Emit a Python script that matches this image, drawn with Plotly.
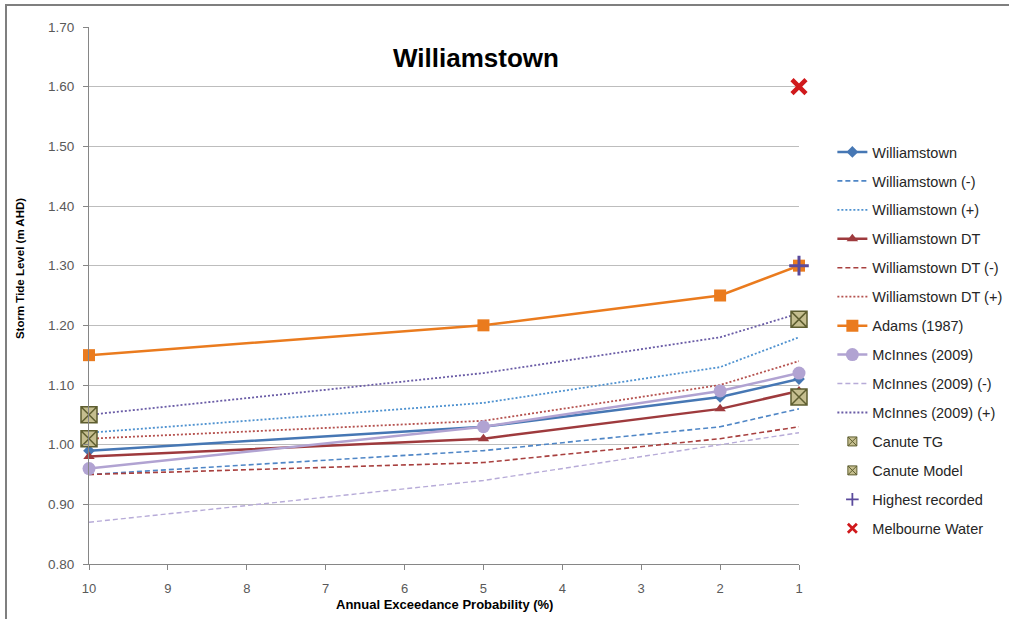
import plotly.graph_objects as go

# Annual exceedance probability (%) at which levels are given
aep = [10, 5, 2, 1]

williamstown = [0.99, 1.03, 1.08, 1.11]
williamstown_lo = [0.95, 0.99, 1.03, 1.06]
williamstown_hi = [1.02, 1.07, 1.13, 1.18]
williamstown_dt = [0.98, 1.01, 1.06, 1.09]
williamstown_dt_lo = [0.95, 0.97, 1.01, 1.03]
williamstown_dt_hi = [1.01, 1.04, 1.10, 1.14]
adams_1987 = [1.15, 1.20, 1.25, 1.30]
mcinnes_2009 = [0.96, 1.03, 1.09, 1.12]
mcinnes_2009_lo = [0.87, 0.94, 1.00, 1.02]
mcinnes_2009_hi = [1.05, 1.12, 1.18, 1.22]

canute_aep = [10, 1]
canute_tg = [1.01, 1.08]
canute_model = [1.05, 1.21]

highest_aep = [1]
highest_recorded = [1.30]
melbourne_aep = [1]
melbourne_water = [1.60]

x_ticks = [10, 9, 8, 7, 6, 5, 4, 3, 2, 1]
y_ticks = [0.80, 0.90, 1.00, 1.10, 1.20, 1.30, 1.40, 1.50, 1.60, 1.70]

FONT = "Liberation Sans"
DASH = "5px,3px"
DOT = "2px,2px"

fig = go.Figure()


def line(name, y, color, width, dash="solid", symbol=None, size=0, x=aep):
    mode = "lines+markers" if symbol else "lines"
    fig.add_trace(go.Scatter(
        x=x, y=y, name=name, mode=mode, legendgroup=name, cliponaxis=False,
        line=dict(color=color, width=width, dash=dash),
        marker=dict(symbol=symbol or "circle", size=size, color=color,
                    line=dict(width=0)),
    ))


def points(name, x, y, symbol, size, legend_size, fill, edge, edge_w):
    marker = dict(symbol=symbol, size=size, color=fill,
                  line=dict(color=edge, width=edge_w))
    fig.add_trace(go.Scatter(
        x=x, y=y, name=name, mode="markers", legendgroup=name,
        cliponaxis=False, showlegend=False, marker=marker,
    ))
    # smaller symbol for the legend key
    key = dict(marker, size=legend_size, line=dict(color=edge, width=max(1, edge_w * 0.6)))
    fig.add_trace(go.Scatter(
        x=[None], y=[None], name=name, mode="markers", legendgroup=name,
        marker=key,
    ))


line("Williamstown", williamstown, "#4677B4", 2.5, symbol="diamond", size=9)
line("Williamstown (-)", williamstown_lo, "#4F86C6", 1.6, dash=DASH)
line("Williamstown (+)", williamstown_hi, "#4F92D0", 1.8, dash=DOT)
line("Williamstown DT", williamstown_dt, "#9E3A3D", 2.5, symbol="triangle-up", size=10)
line("Williamstown DT (-)", williamstown_dt_lo, "#A8403F", 1.6, dash=DASH)
line("Williamstown DT (+)", williamstown_dt_hi, "#B5524F", 1.8, dash=DOT)
line("Adams (1987)", adams_1987, "#EA7B1E", 2.5, symbol="square", size=12)
line("McInnes (2009)", mcinnes_2009, "#B1A3D2", 2.5, symbol="circle", size=13)
line("McInnes (2009) (-)", mcinnes_2009_lo, "#B7ABD8", 1.4, dash=DASH)
line("McInnes (2009) (+)", mcinnes_2009_hi, "#6A5CA6", 1.8, dash=DOT)

points("Canute TG", canute_aep, canute_tg, "square-x", 16, 9, "#C5BE8F", "#5E5E30", 1.5)
points("Canute Model", canute_aep, canute_model, "square-x", 16, 9, "#C5BE8F", "#5E5E30", 1.5)
points("Highest recorded", highest_aep, highest_recorded, "cross-thin", 14, 9, "#5A4A9C", "#5A4A9C", 3)
points("Melbourne Water", melbourne_aep, melbourne_water, "x-thin", 14, 9, "#D0191C", "#D0191C", 4.5)

# outer frame of the chart
fig.add_shape(type="rect", xref="paper", yref="paper",
              x0=-0.1169, x1=1.31, y0=-0.12, y1=1.041,
              line=dict(color="#7F7F7F", width=2), layer="below")

fig.add_annotation(text="<b>Williamstown</b>", xref="paper", yref="paper",
                   x=0.545, y=0.9423, xanchor="center", yanchor="middle", showarrow=False,
                   font=dict(family=FONT, size=26, color="#000000"))
fig.add_annotation(text="<b>Storm Tide Level (m AHD)</b>", xref="paper", yref="paper",
                   x=-0.0972, y=0.551, xanchor="center", yanchor="middle",
                   textangle=-90, showarrow=False,
                   font=dict(family=FONT, size=11.5, color="#000000"))
fig.add_annotation(text="<b>Annual Exceedance Probability (%)</b>", xref="paper", yref="paper",
                   x=0.5, y=-0.0745, xanchor="center", yanchor="middle", showarrow=False,
                   font=dict(family=FONT, size=13, color="#000000"))

fig.update_layout(
    width=1009, height=619,
    margin=dict(l=89, r=210, t=27, b=55, autoexpand=False),
    paper_bgcolor="white", plot_bgcolor="white",
    font=dict(family=FONT, size=12, color="#404040"),
    showlegend=True,
    legend=dict(x=1.047, xanchor="left", y=0.797, yanchor="top",
                traceorder="grouped", tracegroupgap=7.1,
                font=dict(family=FONT, size=14.5, color="#262626"),
                bgcolor="rgba(0,0,0,0)"),
    xaxis=dict(range=[10, 1], tickvals=x_ticks, ticktext=[str(v) for v in x_ticks],
               showgrid=False, zeroline=False, showline=True, linecolor="#868686",
               linewidth=1, ticks="outside", ticklen=5, tickcolor="#868686",
               ticklabelstandoff=7,
               tickfont=dict(family=FONT, size=13, color="#595959")),
    yaxis=dict(range=[0.80, 1.70], tickvals=y_ticks,
               ticktext=[f"{v:.2f}" for v in y_ticks],
               showgrid=True, gridcolor="#BDBDBD", gridwidth=1, zeroline=False,
               showline=True, linecolor="#868686", linewidth=1,
               ticks="outside", ticklen=5, tickcolor="#868686",
               ticklabelstandoff=6,
               tickfont=dict(family=FONT, size=13.5, color="#595959")),
)

fig.write_html("out.html")
